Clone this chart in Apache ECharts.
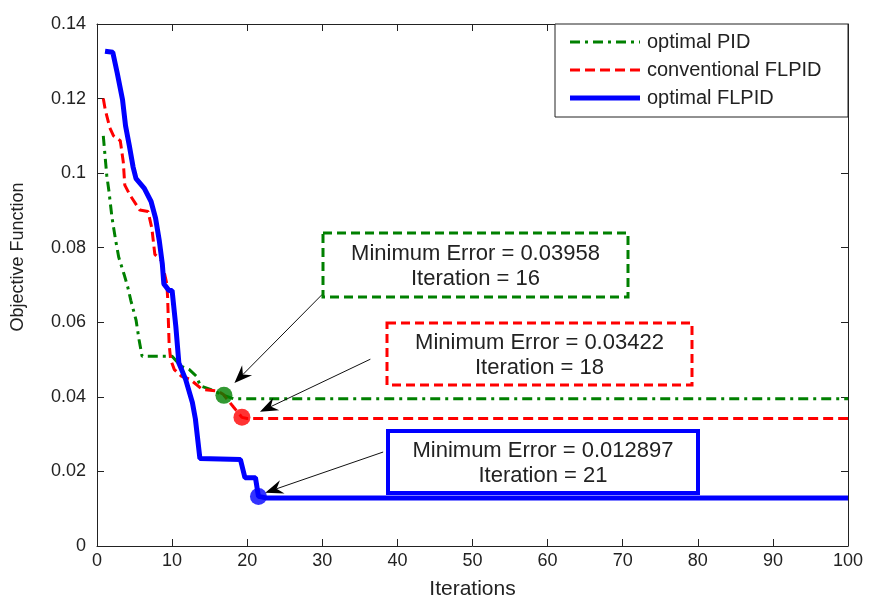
<!DOCTYPE html>
<html><head><meta charset="utf-8">
<script src="https://cdn.jsdelivr.net/npm/echarts@6/dist/echarts.min.js"></script>
<style>html,body{margin:0;padding:0;background:#fff}#c{width:869px;height:605px}</style>
</head><body><div id="c"></div>
<script>
// ---------- data ----------
const seriesNames = ['optimal PID', 'conventional FLPID', 'optimal FLPID'];

const pidIter = [0.84, 1.07, 1.3, 1.6, 2.0, 2.5, 2.9, 3.6, 4.1, 4.5, 5.2, 5.6, 6.0, 10.0, 11.2, 12.3, 13.2, 13.8, 15.1, 16.9, 18.2, 100];
const pidObj  = [0.110, 0.1047, 0.0994, 0.095, 0.088, 0.0818, 0.0774, 0.0729, 0.0694, 0.0659, 0.0606, 0.0553, 0.0509, 0.0509, 0.0482, 0.0473, 0.0456, 0.0429, 0.0420, 0.0404, 0.0395, 0.0395];

const convIter = [0.84, 1.1, 1.7, 2.2, 3.1, 3.5, 3.7, 4.4, 5.7, 6.8, 7.3, 7.7, 8.6, 9.3, 9.4, 9.6, 9.8, 10.3, 11.2, 12.4, 14.0, 16.0, 16.8, 18.2, 19.3, 20.0, 100];
const convObj  = [0.1200, 0.117, 0.1122, 0.110, 0.1087, 0.103, 0.0968, 0.0941, 0.0901, 0.0897, 0.0853, 0.0782, 0.0765, 0.0703, 0.0668, 0.0544, 0.050, 0.0473, 0.0456, 0.0447, 0.0420, 0.0416, 0.0407, 0.0372, 0.0345, 0.0342, 0.0342];

const optIter = [1.07, 2.1, 2.7, 3.4, 3.8, 4.3, 4.8, 5.2, 6.3, 7.2, 7.8, 8.3, 8.7, 8.9, 9.6, 10.0, 10.5, 10.9, 11.8, 12.7, 13.1, 13.7, 19.1, 19.7, 21.1, 21.5, 22.5, 100];
const optObj  = [0.1327, 0.1324, 0.1268, 0.1197, 0.1127, 0.1074, 0.1017, 0.0985, 0.0959, 0.0924, 0.0879, 0.0818, 0.0756, 0.0703, 0.0685, 0.0685, 0.0588, 0.0491, 0.0447, 0.0385, 0.0341, 0.0235, 0.0232, 0.0183, 0.0183, 0.0133, 0.0129, 0.0129];

// minimum markers (plotted position) and annotation values
const markerIter = [16.9, 19.3, 21.5];
const markerObj  = [0.0404, 0.0345, 0.0133];
const minErrors  = ['0.03958', '0.03422', '0.012897'];
const minIters   = [16, 18, 21];

const xTickLabels = ['0','10','20','30','40','50','60','70','80','90','100'];
const yTickLabels = ['0','0.02','0.04','0.06','0.08','0.1','0.12','0.14'];

// ---------- chart ----------
const colors = ['#008000', '#ff0000', '#0000ff'];
const FONT = '"Liberation Sans", Arial, sans-serif';
const zip = (a, b) => a.map((v, i) => [v, b[i]]);
const lineData = [zip(pidIter, pidObj), zip(convIter, convObj), zip(optIter, optObj)];
const lineStyles = [
  {width: 3, type: [10, 5, 3, 5]},
  {width: 3, type: [10, 5]},
  {width: 5, type: 'solid'}
];

const axisLine = {show: true, onZero: false, lineStyle: {color: '#222', width: 1}};
const tick = {show: true, inside: true, length: 7, lineStyle: {color: '#222'}};

const series = [];
for (let i = 0; i < 3; i++) {
  series.push({
    name: seriesNames[i], type: 'line', data: lineData[i], showSymbol: false, symbol: 'none',
    color: colors[i], lineStyle: Object.assign({color: colors[i]}, lineStyles[i]), z: 3 + i,
    xAxisIndex: 0, yAxisIndex: 0
  });
}
for (let i = 0; i < 3; i++) {
  series.push({
    name: 'min' + i, type: 'scatter', data: [[markerIter[i], markerObj[i]]],
    symbol: 'circle', symbolSize: 17, itemStyle: {color: colors[i]}, z: 10, xAxisIndex: 0, yAxisIndex: 0
  });
}

const chart = echarts.init(document.getElementById('c'), null, {renderer: 'canvas'});
const option = {
  animation: false,
  backgroundColor: '#fff',
  grid: {left: 97, right: 21, top: 24, bottom: 53, show: false},
  xAxis: [
    {type: 'value', min: 0, max: 100, interval: 10, position: 'bottom',
     name: 'Iterations', nameLocation: 'middle', nameGap: 33,
     nameTextStyle: {fontSize: 21, color: '#222', fontFamily: FONT},
     axisLine, axisTick: tick, splitLine: {show: false},
     axisLabel: {fontSize: 18, color: '#222', fontFamily: FONT, margin: 6,
       formatter: (v, i) => xTickLabels[i]}},
    {type: 'value', min: 0, max: 100, interval: 10, position: 'top',
     axisLine, axisTick: tick, splitLine: {show: false}, axisLabel: {show: false}}
  ],
  yAxis: [
    {type: 'value', min: 0, max: 0.14, interval: 0.02, position: 'left',
     axisLine, axisTick: tick, splitLine: {show: false},
     axisLabel: {fontSize: 18, color: '#222', fontFamily: FONT, margin: 11,
       formatter: (v, i) => yTickLabels[i]}},
    {type: 'value', min: 0, max: 0.14, interval: 0.02, position: 'right',
     axisLine, axisTick: tick, splitLine: {show: false}, axisLabel: {show: false}}
  ],
  series
};
chart.setOption(option);

// ---------- annotations & legend ----------
const px = (x, y) => chart.convertToPixel({gridIndex: 0}, [x, y]);
const boxes = [
  {x: 323, y: 233, w: 305, h: 64, stroke: colors[0], lw: 3, dash: [9, 5]},
  {x: 387, y: 323, w: 305, h: 62, stroke: colors[1], lw: 3, dash: [9, 5]},
  {x: 388, y: 431, w: 310, h: 62, stroke: colors[2], lw: 4, dash: null}
];
// arrows: start (near box) and tip (near marker), in data coordinates
const arrows = [
  {from: [30.0, 0.0675], to: [18.3, 0.0437]},
  {from: [36.4, 0.0501], to: [21.7, 0.0360]},
  {from: [38.1, 0.0252], to: [22.4, 0.0143]}
];
const g = [];
// y axis title
g.push({type: 'text', x: 18, y: 257, rotation: Math.PI / 2, z: 20,
  style: {text: 'Objective Function', font: '18px ' + FONT, fill: '#222', align: 'center', verticalAlign: 'middle'}});

// legend box
const gridRect = {x: 97, y: 24, w: 869 - 97 - 21};
const lgX = 555, lgY = gridRect.y, lgW = gridRect.x + gridRect.w - 555, lgH = 93;
g.push({type: 'rect', z: 30, shape: {x: lgX, y: lgY, width: lgW, height: lgH},
  style: {fill: '#fff', stroke: '#222', lineWidth: 1}});
const lgRows = [42, 70, 98];
for (let i = 0; i < 3; i++) {
  g.push({type: 'line', z: 31, shape: {x1: 570, y1: lgRows[i], x2: 640, y2: lgRows[i]},
    style: {stroke: colors[i], lineWidth: lineStyles[i].width,
      lineDash: Array.isArray(lineStyles[i].type) ? lineStyles[i].type : null}});
  g.push({type: 'text', z: 31, x: 647, y: lgRows[i],
    style: {text: seriesNames[i], font: '20px ' + FONT, fill: '#222', align: 'left', verticalAlign: 'middle'}});
}

for (let i = 0; i < 3; i++) {
  const b = boxes[i];
  g.push({type: 'rect', z: 20, shape: {x: b.x, y: b.y, width: b.w, height: b.h},
    style: {fill: '#fff', stroke: b.stroke, lineWidth: b.lw, lineDash: b.dash}});
  g.push({type: 'text', z: 21, x: b.x + b.w / 2, y: b.y + b.h / 2 + 1.5,
    style: {text: 'Minimum Error = ' + minErrors[i] + '\nIteration = ' + minIters[i],
      font: '22px ' + FONT, lineHeight: 25, fill: '#222', align: 'center', verticalAlign: 'middle'}});
  const F = px(arrows[i].from[0], arrows[i].from[1]);
  const T = px(arrows[i].to[0], arrows[i].to[1]);
  const dx = T[0] - F[0], dy = T[1] - F[1], L = Math.hypot(dx, dy);
  const ux = dx / L, uy = dy / L, nx = -uy, ny = ux;
  const HL = 18, HW = 7, notch = 6;
  g.push({type: 'line', z: 19, shape: {x1: F[0], y1: F[1], x2: T[0] - ux * (HL - notch), y2: T[1] - uy * (HL - notch)},
    style: {stroke: '#111', lineWidth: 1}});
  g.push({type: 'polygon', z: 19, shape: {points: [
    [T[0], T[1]],
    [T[0] - ux * HL + nx * HW, T[1] - uy * HL + ny * HW],
    [T[0] - ux * (HL - notch), T[1] - uy * (HL - notch)],
    [T[0] - ux * HL - nx * HW, T[1] - uy * HL - ny * HW]
  ]}, style: {fill: '#000'}});
}
chart.setOption({graphic: g});
</script></body></html>
